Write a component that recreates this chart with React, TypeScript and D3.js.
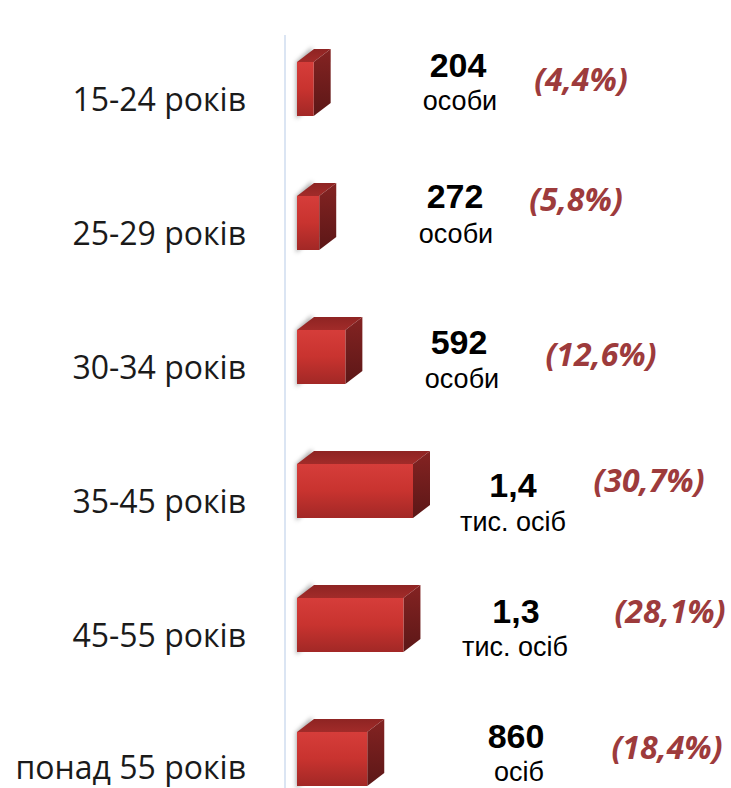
import React from "react";
import * as d3 from "d3";

const categories = ["15-24 років", "25-29 років", "30-34 років", "35-45 років", "45-55 років", "понад 55 років"];
const values = [204, 272, 592, 1420, 1303, 860];
const valueLabels = ["204", "272", "592", "1,4", "1,3", "860"];
const unitLabels = ["особи", "особи", "особи", "тис. осіб", "тис. осіб", "осіб"];
const percentLabels = ["(4,4%)", "(5,8%)", "(12,6%)", "(30,7%)", "(28,1%)", "(18,4%)"];

// layout: label anchor positions
const valueX = [458, 455, 459, 513, 516, 516];
const valueY = [77, 208, 354, 497, 623, 748];
const unitX = [460, 456, 462, 513, 515, 519];
const unitY = [110, 243, 388, 531, 656, 781];
const pctX = [581, 576, 601, 649, 670, 667];
const pctY = [91, 211, 366, 492, 623, 759];

const W = 731, H = 788;
const x0 = 297;
const depthX = 17, depthY = -13;

export default function App() {
  const y = d3.scalePoint<string>().domain(categories).range([89, 759]);
  const x = d3.scaleLinear().domain([0, 1420]).range([0, 116]);
  const barH = 54;
  return (
    <svg width={W} height={H} style={{ position: "absolute", left: 0, top: 0, background: "#fff" }}>
      <defs>
        <linearGradient id="front" x1="0" y1="0" x2="0" y2="1">
          <stop offset="0" stopColor="#d63d3a" />
          <stop offset="0.5" stopColor="#c8332f" />
          <stop offset="1" stopColor="#a22826" />
        </linearGradient>
        <linearGradient id="side" x1="0" y1="0" x2="0" y2="1">
          <stop offset="0" stopColor="#842322" />
          <stop offset="1" stopColor="#5c1717" />
        </linearGradient>
        <linearGradient id="top" x1="0" y1="1" x2="0" y2="0">
          <stop offset="0" stopColor="#a22b29" />
          <stop offset="1" stopColor="#8e2423" />
        </linearGradient>
        <filter id="blur" x="-50%" y="-50%" width="200%" height="200%">
          <feGaussianBlur stdDeviation="2" />
        </filter>
      </defs>
      <line x1={285} x2={285} y1={35} y2={788} stroke="#dbe5f3" strokeWidth={2} />
      {categories.map((c, i) => {
        const cy = y(c)!;
        const w = x(values[i]);
        const top = cy - barH / 2;
        const bot = cy + barH / 2;
        const r = x0 + w;
        return (
          <g key={c}>
            <polygon
              points={`${x0 - 1},${top} ${x0 + depthX - 2},${top + depthY - 2} ${x0 + depthX},${bot + depthY} ${x0 - 1},${bot + 3}`}
              fill="#8a8a8a"
              opacity={0.7}
              filter="url(#blur)"
            />
            <polygon points={`${x0},${top} ${r},${top} ${r + depthX},${top + depthY} ${x0 + depthX},${top + depthY}`} fill="url(#top)" />
            <polygon points={`${r},${top} ${r + depthX},${top + depthY} ${r + depthX},${bot + depthY} ${r},${bot}`} fill="url(#side)" />
            <rect x={x0} y={top} width={w} height={barH} fill="url(#front)" />
            <text x={246} y={Math.min(cy + 22, 779)} textAnchor="end" fontFamily="Open Sans, Lato, sans-serif" fontSize={32} fill="#1a1a1a">
              {c}
            </text>
            <text x={valueX[i]} y={valueY[i]} textAnchor="middle" fontFamily="Liberation Sans, Arial, sans-serif" fontWeight="bold" fontSize={34} fill="#000">
              {valueLabels[i]}
            </text>
            <text x={unitX[i]} y={unitY[i]} textAnchor="middle" fontFamily="Liberation Sans, Arial, sans-serif" fontSize={27} fill="#000">
              {unitLabels[i]}
            </text>
            <text x={pctX[i]} y={pctY[i]} textAnchor="middle" fontFamily="Open Sans, Lato, sans-serif" fontStyle="italic" fontWeight="bold" fontSize={32} fill="#9d3b3c">
              {percentLabels[i]}
            </text>
          </g>
        );
      })}
    </svg>
  );
}
